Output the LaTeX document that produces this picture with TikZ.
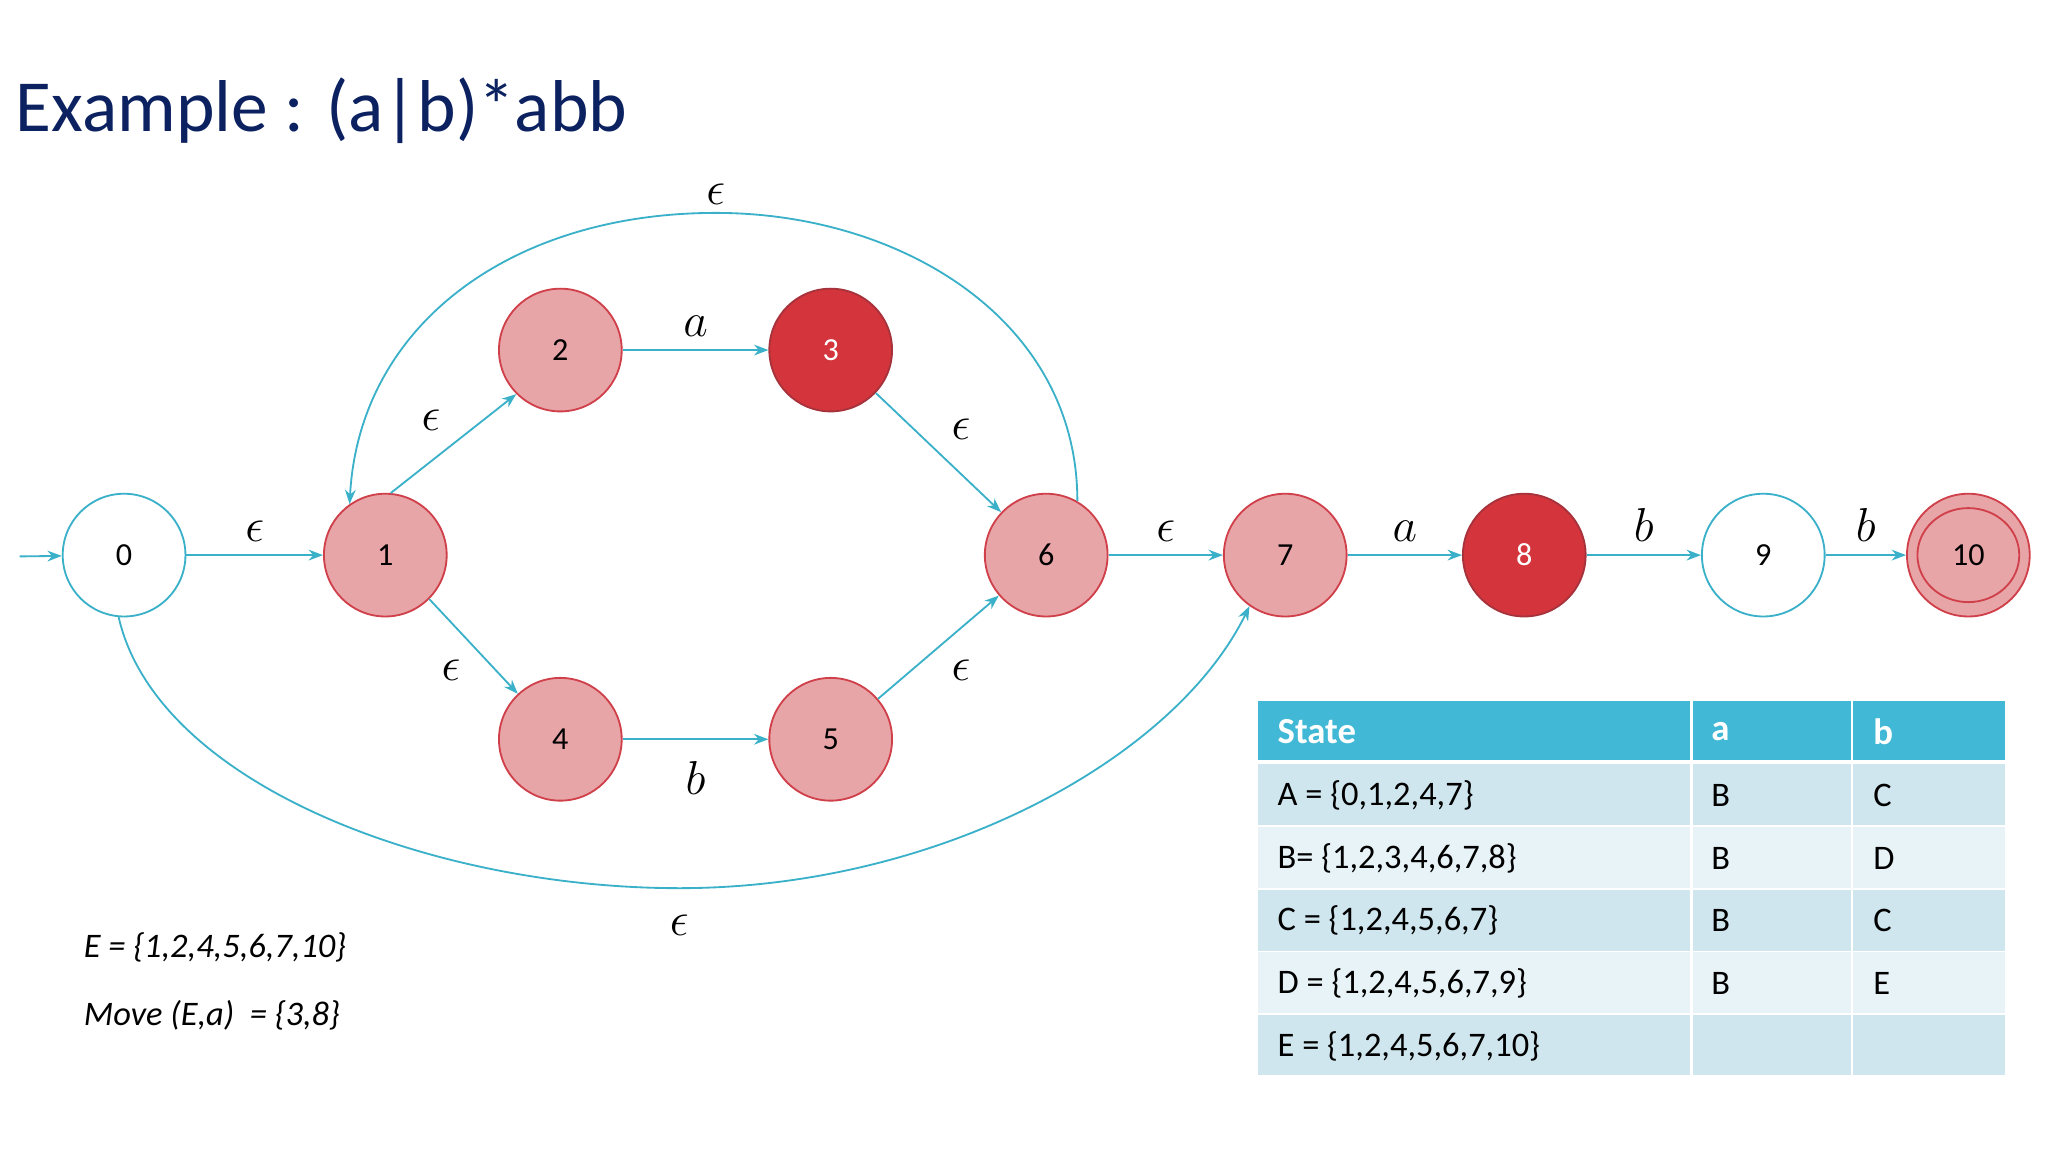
\documentclass[tikz,border=0pt]{standalone}
\usepackage{fontspec}
\setmainfont{Carlito}
\usetikzlibrary{arrows.meta}
\definecolor{edge}{HTML}{3BB0C9}
\definecolor{lred}{HTML}{E8A5A8}
\definecolor{bred}{HTML}{D0404A}
\definecolor{dred}{HTML}{D4343C}
\definecolor{navy}{HTML}{0B2160}
\definecolor{thead}{HTML}{41B8D5}
\definecolor{rowa}{HTML}{CFE6EE}
\definecolor{rowb}{HTML}{E8F3F7}
\newcommand{\eps}{\ensuremath{\epsilon}}
\begin{document}
\begin{tikzpicture}[x=0.02cm,y=-0.02cm,
  st/.style={circle,minimum size=1.88cm,inner sep=0pt,font=\fontsize{14}{16}\selectfont},
  pink/.style={st,fill=lred,draw=bred,thick},
  red/.style={st,fill=dred,draw=bred!80!black,thick,text=white},
  wht/.style={st,fill=white,draw=edge,thick},
  ed/.style={draw=edge,thick,-{Stealth[length=2.2mm]}},
  lb/.style={font=\fontsize{20}{22}\selectfont\itshape},
  cell/.style={anchor=west,font=\fontsize{15}{17}\selectfont}]
\useasboundingbox (0,0) rectangle (1568,882);
\node[anchor=west,text=navy,font=\fontsize{32}{38}\selectfont] (title) at (6,85) {Example : (a|b)*abb};
\node[wht] (n0) at (95,425) {0};
\node[pink] (n1) at (295,425) {1};
\node[pink] (n2) at (429,268) {2};
\node[red] (n3) at (636,268) {3};
\node[pink] (n4) at (429,566) {4};
\node[pink] (n5) at (636,566) {5};
\node[pink] (n6) at (801,425) {6};
\node[pink] (n7) at (984,425) {7};
\node[red] (n8) at (1167,425) {8};
\node[wht] (n9) at (1350,425) {9};
\node[pink] (n10) at (1507,425) {10};
\draw[bred,thick] (n10) circle[x radius=0.78cm,y radius=0.72cm];
\coordinate (in) at (15,426);
\draw[ed] (in) -- (n0);
\draw[ed] (n0) -- node[lb,above=2pt]{\eps} (n1);
\draw[ed] (n1.85) -- node[lb,above left=2pt]{\eps} (n2.225);
\draw[ed] (n1.-45) -- node[lb,below left=2pt]{\eps} (n4);
\draw[ed] (n2) -- node[lb,above=2pt]{$a$} (n3);
\draw[ed] (n4) -- node[lb,below=6pt]{$b$} (n5);
\draw[ed] (n3) -- node[lb,above right=2pt]{\eps} (n6);
\draw[ed] (n5) -- node[lb,below right=2pt]{\eps} (n6);
\draw[ed] (n6) -- node[lb,above=2pt]{\eps} (n7);
\draw[ed] (n7) -- node[lb,above=2pt]{$a$} (n8);
\draw[ed] (n8) -- node[lb,above=2pt]{$b$} (n9);
\draw[ed] (n9) -- node[lb,above=2pt]{$b$} (n10);
\draw[ed] (n6.60) .. controls (825,245) and (690,163) .. (548,163) node[lb,above=0pt]{\eps} .. controls (390,163) and (275,250) .. (n1.125);
\draw[ed] (n0.265) .. controls (120,600) and (330,680) .. (520,680) node[lb,below=8pt]{\eps} .. controls (720,680) and (900,580) .. (n7.235);
\node[anchor=west,font=\fontsize{15}{17}\selectfont\itshape] (e1) at (58,725) {E = \{1,2,4,5,6,7,10\}};
\node[anchor=west,font=\fontsize{15}{17}\selectfont\itshape] (e2) at (58,777) {Move (E,a) \ = \{3,8\}};
% table
\fill[thead] (963,537) rectangle (1535,582);
\fill[rowa] (963,585) rectangle (1535,632);
\fill[rowb] (963,633) rectangle (1535,680);
\fill[rowa] (963,681) rectangle (1535,728);
\fill[rowb] (963,729) rectangle (1535,776);
\fill[rowa] (963,777) rectangle (1535,823);
\draw[white,line width=1.2pt] (1295,537) -- (1295,823) (1418,537) -- (1418,823);
\draw[white,line width=1.2pt] (963,583.5) -- (1535,583.5);
\foreach \y in {632.5,680.5,728.5,776.5} \draw[white,line width=0.8pt] (963,\y) -- (1535,\y);
\node[cell,text=white,font=\fontsize{16}{18}\selectfont\bfseries] (h1) at (972,560) {State};
\node[cell,text=white,font=\fontsize{16}{18}\selectfont\bfseries] (h2) at (1304,560) {a};
\node[cell,text=white,font=\fontsize{16}{18}\selectfont\bfseries] (h3) at (1428,560) {b};
\node[cell] (r1) at (972,609) {A = \{0,1,2,4,7\}};
\node[cell] (r1a) at (1304,609) {B};
\node[cell] (r1b) at (1428,609) {C};
\node[cell] (r2) at (972,657) {B= \{1,2,3,4,6,7,8\}};
\node[cell] (r2a) at (1304,657) {B};
\node[cell] (r2b) at (1428,657) {D};
\node[cell] (r3) at (972,705) {C = \{1,2,4,5,6,7\}};
\node[cell] (r3a) at (1304,705) {B};
\node[cell] (r3b) at (1428,705) {C};
\node[cell] (r4) at (972,753) {D = \{1,2,4,5,6,7,9\}};
\node[cell] (r4a) at (1304,753) {B};
\node[cell] (r4b) at (1428,753) {E};
\node[cell] (r5) at (972,801) {E = \{1,2,4,5,6,7,10\}};
\end{tikzpicture}
\end{document}
